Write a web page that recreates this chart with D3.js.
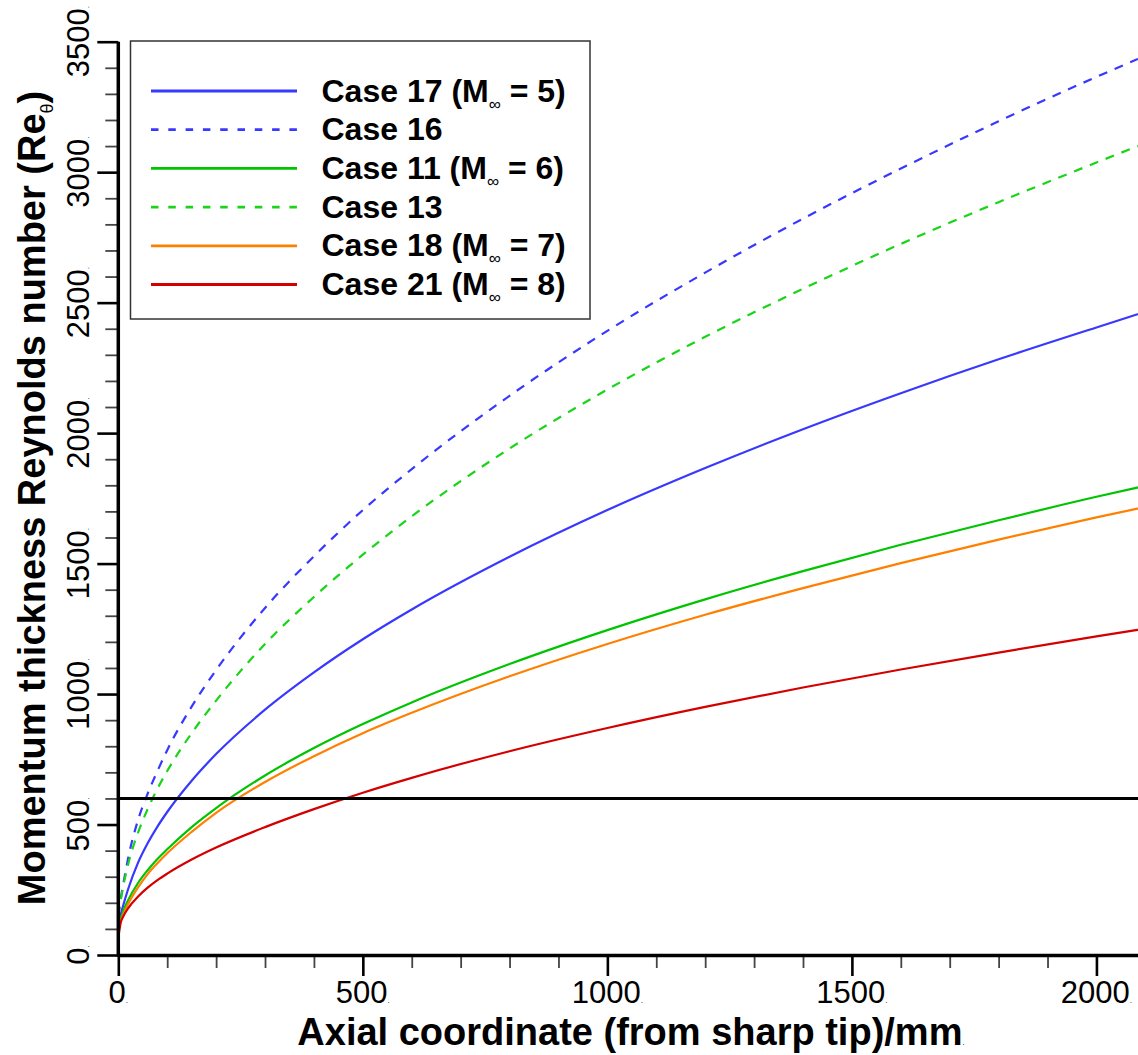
<!DOCTYPE html>
<html>
<head>
<meta charset="utf-8">
<script src="https://cdn.jsdelivr.net/npm/d3@7"></script>
<style>
  body { margin: 0; background: #fff; }
  svg { display: block; }
</style>
</head>
<body>
<svg id="chart" width="1138" height="1055"></svg>
<script>
// Axial stations (mm) and momentum-thickness Reynolds number for each case
const axialX = [0, 5, 10, 20, 40, 60, 80, 100, 150, 200, 300, 400, 500, 600, 800, 1000, 1200, 1400, 1600, 1800, 2000, 2085];
const case17 = [110, 155, 190, 252, 352, 428, 492, 548, 668, 770, 940, 1083, 1210, 1324, 1526, 1705, 1866, 2015, 2153, 2283, 2405, 2456];
const case16 = [150, 215, 270, 370, 515, 618, 705, 785, 952, 1092, 1330, 1528, 1705, 1862, 2143, 2392, 2615, 2822, 3014, 3195, 3365, 3434];
const case11 = [110, 140, 168, 210, 275, 325, 368, 405, 490, 563, 688, 793, 885, 968, 1115, 1245, 1363, 1471, 1572, 1666, 1756, 1792];
const case13 = [150, 210, 262, 347, 467, 559, 637, 705, 850, 975, 1192, 1372, 1534, 1681, 1941, 2167, 2369, 2553, 2725, 2885, 3037, 3100];
const case18 = [100, 130, 155, 195, 258, 310, 352, 390, 472, 545, 663, 762, 850, 928, 1068, 1192, 1304, 1406, 1502, 1592, 1677, 1711];
const case21 = [65, 125, 147, 179, 223, 258, 287, 312, 366, 412, 490, 559, 622, 679, 781, 870, 951, 1025, 1094, 1159, 1221, 1246];

const xMajorTicks = [0, 500, 1000, 1500, 2000];
const yMajorTicks = [0, 500, 1000, 1500, 2000, 2500, 3000, 3500];
const thresholdRe = 600;

const series = [
  { name: "Case 17", mach: "5", values: case17, color: "#3838ff", dashed: false },
  { name: "Case 16", mach: null, values: case16, color: "#3838ff", dashed: true },
  { name: "Case 11", mach: "6", values: case11, color: "#00c400", dashed: false },
  { name: "Case 13", mach: null, values: case13, color: "#1ad41a", dashed: true },
  { name: "Case 18", mach: "7", values: case18, color: "#ff8000", dashed: false },
  { name: "Case 21", mach: "8", values: case21, color: "#d40000", dashed: false }
];

const FONT = "'Liberation Sans', Arial, Helvetica, sans-serif";
const svg = d3.select("#chart");

const x = d3.scaleLinear().domain([0, 2085]).range([118.3, 1138]);
const y = d3.scaleLinear().domain([0, 3500]).range([955, 41.7]);

// clip region for the curves
svg.append("defs").append("clipPath").attr("id", "plotClip")
  .append("rect").attr("x", x(0)).attr("y", 0)
  .attr("width", 1138 - x(0)).attr("height", y(0));

const line = d3.line()
  .x((d, i) => x(axialX[i]))
  .y(d => y(d))
  .curve(d3.curveMonotoneX);

const curves = svg.append("g").attr("clip-path", "url(#plotClip)");
series.forEach(s => {
  curves.append("path")
    .attr("d", line(s.values))
    .attr("fill", "none")
    .attr("stroke", s.color)
    .attr("stroke-width", 2.2)
    .attr("stroke-dasharray", s.dashed ? "9,8" : null);
});

// transition threshold
svg.append("line")
  .attr("x1", x(0)).attr("x2", 1138)
  .attr("y1", y(thresholdRe)).attr("y2", y(thresholdRe))
  .attr("stroke", "#000").attr("stroke-width", 3);

// minor ticks
const xMinor = d3.range(0, 2001, 100).filter(v => v % 500 !== 0);
const yMinor = d3.range(0, 3501, 100).filter(v => v % 500 !== 0);

svg.append("g").attr("transform", `translate(0,${y(0)})`)
  .call(d3.axisBottom(x).tickValues(xMinor).tickSize(13).tickSizeOuter(0).tickFormat(""))
  .call(g => g.select(".domain").remove())
  .call(g => g.selectAll(".tick line").attr("stroke", "#444").attr("stroke-width", 1.8));

svg.append("g").attr("transform", `translate(${x(0)},0)`)
  .call(d3.axisLeft(y).tickValues(yMinor).tickSize(13).tickSizeOuter(0).tickFormat(""))
  .call(g => g.select(".domain").remove())
  .call(g => g.selectAll(".tick line").attr("stroke", "#444").attr("stroke-width", 1.8));

// major ticks and axis lines
svg.append("g").attr("transform", `translate(0,${y(0)})`)
  .call(d3.axisBottom(x).tickValues(xMajorTicks).tickSize(21).tickSizeOuter(0).tickFormat(""))
  .call(g => g.select(".domain").attr("stroke", "#000").attr("stroke-width", 3.5))
  .call(g => g.selectAll(".tick line").attr("stroke", "#000").attr("stroke-width", 2.6));

svg.append("g").attr("transform", `translate(${x(0)},0)`)
  .call(d3.axisLeft(y).tickValues(yMajorTicks).tickSize(21).tickSizeOuter(0).tickFormat(""))
  .call(g => g.select(".domain").attr("stroke", "#000").attr("stroke-width", 3.5)
    .attr("d", `M0,${y(3500)}V${y(0) + 1.75}`))
  .call(g => g.selectAll(".tick line").attr("stroke", "#000").attr("stroke-width", 2.6));

// tick labels with the small trailing point
function tickLabel(sel, v) {
  sel.append("tspan").text(v);
  sel.append("tspan").attr("font-size", 8).text(".");
}
svg.append("g").selectAll("text").data(xMajorTicks).join("text")
  .attr("x", d => x(d)).attr("y", 1003)
  .attr("text-anchor", "middle")
  .attr("font-family", FONT).attr("font-size", 31)
  .each(function(d) { tickLabel(d3.select(this), d); });

svg.append("g").selectAll("text").data(yMajorTicks).join("text")
  .attr("transform", d => `translate(89,${y(d)}) rotate(-90)`)
  .attr("text-anchor", "middle")
  .attr("font-family", FONT).attr("font-size", 31)
  .each(function(d) { tickLabel(d3.select(this), d); });

// axis titles
const xTitle = svg.append("text")
  .attr("x", 631).attr("y", 1045)
  .attr("text-anchor", "middle")
  .attr("font-family", FONT).attr("font-size", 38).attr("font-weight", "bold");
xTitle.append("tspan").text("Axial coordinate (from sharp tip)/mm");
xTitle.append("tspan").attr("font-size", 8).attr("font-weight", "normal").text(".");

const yTitle = svg.append("text")
  .attr("transform", "translate(45,498) rotate(-90)")
  .attr("text-anchor", "middle")
  .attr("font-family", FONT).attr("font-size", 38).attr("font-weight", "bold");
yTitle.append("tspan").text("Momentum thickness Reynolds number (Re");
yTitle.append("tspan").attr("font-size", 18).attr("font-weight", "normal").attr("dy", 8).text("θ");
yTitle.append("tspan").attr("dy", -8).text(")");

// legend
const legend = svg.append("g");
legend.append("rect")
  .attr("x", 130.5).attr("y", 41).attr("width", 459.5).attr("height", 278)
  .attr("fill", "#fff").attr("stroke", "#333").attr("stroke-width", 1.5);

const rowY = d3.scaleLinear().domain([0, 5]).range([91, 284.5]);
series.forEach((s, i) => {
  const cy = rowY(i);
  legend.append("line")
    .attr("x1", 151).attr("x2", 297).attr("y1", cy).attr("y2", cy)
    .attr("stroke", s.color).attr("stroke-width", 2.8)
    .attr("stroke-dasharray", s.dashed ? "7.5,9.8" : null);
  const t = legend.append("text")
    .attr("x", 321.5).attr("y", cy + 10.5)
    .attr("font-family", FONT).attr("font-size", 32).attr("font-weight", "bold");
  if (s.mach) {
    t.append("tspan").text(`${s.name} (M`);
    t.append("tspan").attr("font-size", 17).attr("font-weight", "normal").attr("dy", 8).text("∞");
    t.append("tspan").attr("dy", -8).text(` = ${s.mach})`);
  } else {
    t.text(s.name);
  }
});
</script>
</body>
</html>
